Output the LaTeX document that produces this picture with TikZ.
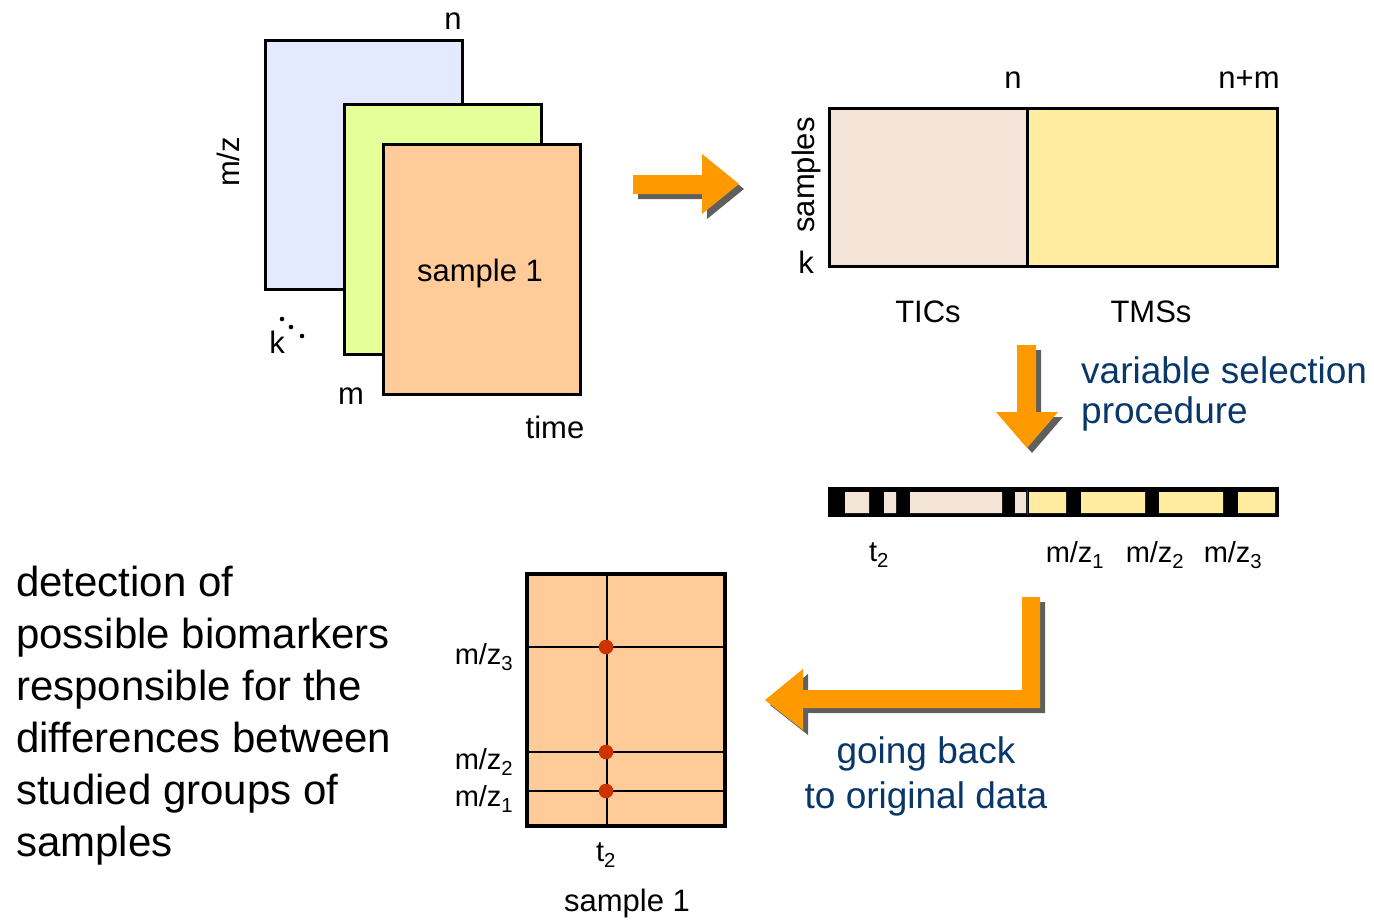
\documentclass[tikz,border=0pt]{standalone}
\usepackage{fontspec}
\setmainfont{Liberation Sans}
\usetikzlibrary{shadows}
\definecolor{sheetblue}{RGB}{227,233,255}
\definecolor{sheetgreen}{RGB}{229,255,153}
\definecolor{sheetorange}{RGB}{255,204,153}
\definecolor{ticfill}{RGB}{243,228,215}
\definecolor{tmsfill}{RGB}{255,236,160}
\definecolor{arroworange}{RGB}{255,153,0}
\definecolor{shadowgray}{RGB}{95,95,95}
\definecolor{navy}{RGB}{10,55,105}
\definecolor{markred}{RGB}{204,51,0}
\tikzset{
  sheet/.style={draw=black,line width=3},
  lbl/.style={inner sep=0,font=\fontsize{31}{36}\selectfont},
  sublbl/.style={inner sep=0,font=\fontsize{29}{34}\selectfont},
  bluetxt/.style={inner sep=0,text=navy,font=\fontsize{37}{44}\selectfont},
  blockarrow/.style={fill=arroworange,
    drop shadow={shadow xshift=5pt,shadow yshift=-5pt,fill=shadowgray,opacity=1}},
  gridline/.style={line width=1.8},
  marker/.style={fill=markred}
}
\begin{document}
\begin{tikzpicture}[x=1pt,y=-1pt]
\useasboundingbox (0,0) rectangle (1374,919);

% stacked measurement sheets
\filldraw[sheet,fill=sheetblue] (265,40) rectangle (462,289);
\filldraw[sheet,fill=sheetgreen] (344,104) rectangle (541,354);
\filldraw[sheet,fill=sheetorange] (383,144) rectangle (580,394);
\node[lbl] (sheetn) at (453,21) {n};
\node[lbl,rotate=90] (sheetmz) at (228,162) {m/z};
\node[lbl] (sheetk) at (277,342) {k};
\fill (282,319) circle (2.3) (291,327) circle (2.3) (302,336) circle (2.3);
\node[lbl] (sheetm) at (351,396) {m};
\node[lbl] (sheettime) at (555,427) {time};
\node[lbl] (sheetname) at (480,273) {sample 1};

% arrow to the unfolded matrix
\fill[blockarrow] (633,175) -- (702,175) -- (702,154) -- (739,184) -- (702,214)
  -- (702,194) -- (633,194) -- cycle;

% unfolded data matrix
\filldraw[line width=3,fill=ticfill] (829,108) rectangle (1027,266);
\filldraw[line width=3,fill=tmsfill] (1027,108) rectangle (1277,266);
\node[lbl] (matn) at (1013,80) {n};
\node[lbl] (matnm) at (1249,80) {n+m};
\node[lbl,rotate=90] (matsamples) at (806,175) {samples};
\node[lbl] (matk) at (806,262) {k};
\node[lbl] (tics) at (928,312) {TICs};
\node[lbl] (tmss) at (1151,312) {TMSs};

% variable selection step
\fill[blockarrow] (1017,345) -- (1036,345) -- (1036,412) -- (1058,412) -- (1027,448)
  -- (996,412) -- (1017,412) -- cycle;
\node[bluetxt,anchor=west] (varsel1) at (1081,370) {variable selection};
\node[bluetxt,anchor=west] (varsel2) at (1081,414) {procedure};

% selected variables strip
\fill[black] (828,487) rectangle (1279,517);
\fill[ticfill] (845,492) rectangle (869,513) (884,492) rectangle (896,513)
  (910,492) rectangle (1002,513) (1015,492) rectangle (1026,513);
\fill[tmsfill] (1029,492) rectangle (1066,513) (1081,492) rectangle (1145,513)
  (1159,492) rectangle (1223,513) (1238,492) rectangle (1275,513);
\draw[line width=1,black!80] (1027,490) -- (1027,515);
\node[sublbl] (stript) at (879,555) {t\textsubscript{2}};
\node[sublbl] (stripmza) at (1075,555) {m/z\textsubscript{1}};
\node[sublbl] (stripmzb) at (1155,555) {m/z\textsubscript{2}};
\node[sublbl] (stripmzc) at (1233,555) {m/z\textsubscript{3}};

% back to the original data
\fill[blockarrow] (1022,597) -- (1040,597) -- (1040,708) -- (803,708) -- (803,730)
  -- (765,700) -- (803,669) -- (803,690) -- (1022,690) -- cycle;
\node[bluetxt] (back1) at (926,754) {going back};
\node[bluetxt] (back2) at (926,799) {to original data};

% located biomarkers in sample 1
\fill[sheetorange] (527,574) rectangle (725,826);
\draw[gridline] (607,574) -- (607,826);
\draw[gridline] (527,647) -- (725,647);
\draw[gridline] (527,752) -- (725,752);
\draw[gridline] (527,791) -- (725,791);
\draw[line width=3.5] (527,574) rectangle (725,826);
\fill[marker] (606,647) circle (7.3) (606,752) circle (7.3) (606,791) circle (7.3);
\node[sublbl] (boxmzc) at (484,657) {m/z\textsubscript{3}};
\node[sublbl] (boxmzb) at (484,762) {m/z\textsubscript{2}};
\node[sublbl] (boxmza) at (484,799) {m/z\textsubscript{1}};
\node[sublbl] (boxt) at (606,855) {t\textsubscript{2}};
\node[lbl] (boxname) at (627,903) {sample 1};

% conclusion
\node[inner sep=0,anchor=west,align=left,font=\fontsize{42}{52}\selectfont] (conclusion) at (16,716)
  {detection of\\possible biomarkers\\responsible for the\\differences between\\studied groups of\\samples};
\end{tikzpicture}
\end{document}
